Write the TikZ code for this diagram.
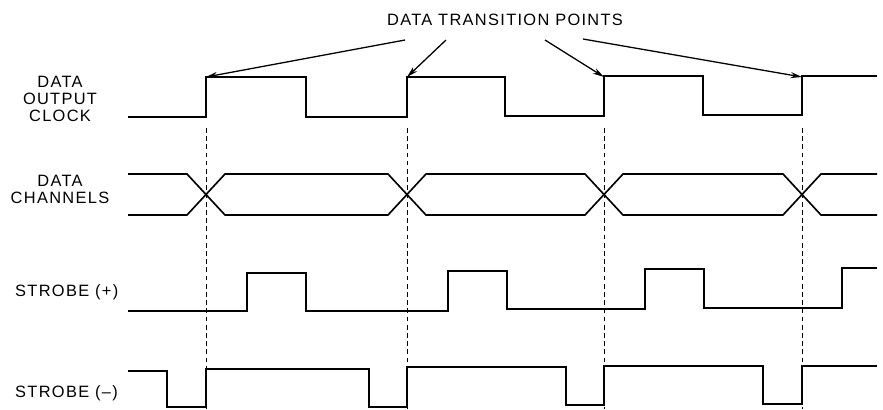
\documentclass[tikz,border=0pt]{standalone}
\usepackage{fontspec}
\setmainfont{Liberation Sans}[LetterSpace=8]
\usetikzlibrary{arrows.meta}

\begin{document}
\begin{tikzpicture}[
  x=0.03cm, y=-0.03cm,
  font=\fontsize{14}{14.5}\selectfont,
  wave/.style={line width=1.4pt, line join=miter},
  marker/.style={line width=0.5pt, dash pattern=on 4pt off 3pt},
  pointer/.style={-{Stealth[length=3.4mm,width=1.8mm]}, line width=1.1pt},
  sig/.style={align=center, inner sep=0pt}
]
\useasboundingbox (0,0) rectangle (883,409);

% signal names
\node[sig] (clkname) at (60,99) {DATA\\OUTPUT\\CLOCK};
\node[sig] (chname) at (60,189) {DATA\\CHANNELS};
\node[sig, anchor=west] (spname) at (15,292) {STROBE (+)};
\node[sig, anchor=west] (smname) at (15,393) {STROBE (--)};
\node[sig] (title) at (505,20) {DATA TRANSITION POINTS};

% transition markers
\foreach \x [count=\i] in {206,407,604,802} {
  \coordinate (t\i) at (\x,77);
  \draw[marker] (\x,128) -- (\x,409);
}

% clock
\draw[wave] (128,117) -- (206,117) -- (206,77) -- (306,77) -- (306,117) -- (407,117) -- (407,77)
  -- (505,77) -- (505,116) -- (604,116) -- (604,76) -- (703,76) -- (703,115) -- (802,115)
  -- (802,76) -- (877,76);

% data channels
\draw[wave] (128,174) -- (187,174) -- (225,215) -- (388,215) -- (426,174) -- (585,174)
  -- (623,215) -- (783,215) -- (821,174) -- (877,174);
\draw[wave] (128,215) -- (187,215) -- (225,174) -- (388,174) -- (426,215) -- (585,215)
  -- (623,174) -- (783,174) -- (821,215) -- (877,215);

% strobe (+)
\draw[wave] (128,311) -- (247,311) -- (247,273) -- (306,273) -- (306,311) -- (448,311)
  -- (448,271) -- (507,271) -- (507,309) -- (645,309) -- (645,269) -- (704,269) -- (704,308)
  -- (842,308) -- (842,268) -- (877,268);

% strobe (-)
\draw[wave] (128,371) -- (167,371) -- (167,407) -- (206,407) -- (206,369) -- (369,369)
  -- (369,407) -- (407,407) -- (407,367) -- (566,367) -- (566,405) -- (604,405) -- (604,366)
  -- (763,366) -- (763,404) -- (802,404) -- (802,366) -- (877,366);

% pointers
\coordinate (a1) at (405,40);
\coordinate (a2) at (446,40);
\coordinate (a3) at (545,40);
\coordinate (a4) at (583,39);
\foreach \i in {1,...,4}
  \draw[pointer] (a\i) -- (t\i);
\end{tikzpicture}
\end{document}
